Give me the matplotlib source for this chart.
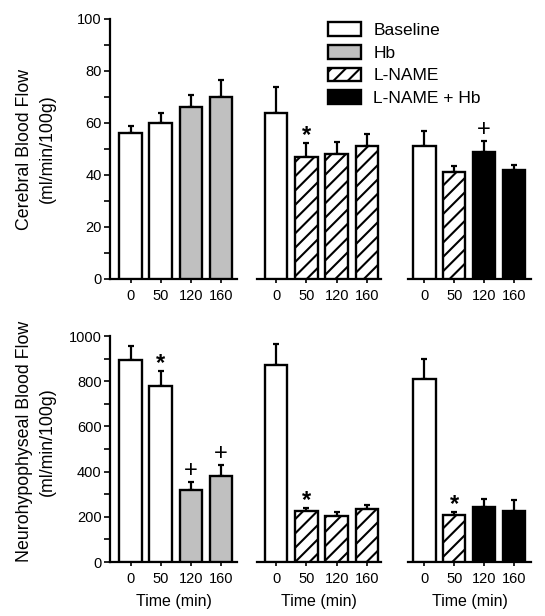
import matplotlib
matplotlib.use("Agg")
import matplotlib.pyplot as plt
from matplotlib.patches import Patch
from matplotlib.ticker import MultipleLocator
from matplotlib.backend_bases import GraphicsContextBase

# sparser hatch spacing, like the reference
_orig_hatch_path = GraphicsContextBase.get_hatch_path
def _hatch_path(self, density=6.0):
    return _orig_hatch_path(self, density=14.0)
GraphicsContextBase.get_hatch_path = _hatch_path

plt.rcParams['font.family'] = ['Liberation Sans', 'DejaVu Sans']
plt.rcParams['hatch.linewidth'] = 1.5

time_labels = ["0", "50", "120", "160"]

# Cerebral blood flow (ml/min/100g)
cbf_means = [[56, 60, 66, 70], [64, 47, 48, 51], [51, 41, 49, 42]]
cbf_sem = [[3, 4, 4.6, 6.4], [9.7, 5.5, 4.7, 4.8], [5.8, 2.4, 4, 2]]
cbf_marks = [["", "", "", ""], ["", "*", "", ""], ["", "", "+", ""]]

# Neurohypophyseal blood flow (ml/min/100g)
nhbf_means = [[892, 780, 317, 379], [870, 226, 205, 233], [808, 209, 242, 227]]
nhbf_sem = [[63, 66, 37, 49], [93, 13, 15, 19], [89, 14, 35, 47]]
nhbf_marks = [["", "*", "+", "+"], ["", "*", "", ""], ["", "*", "", ""]]

# treatment of each bar in each column
groups = [["Baseline", "Baseline", "Hb", "Hb"],
          ["Baseline", "L-NAME", "L-NAME", "L-NAME"],
          ["Baseline", "L-NAME", "L-NAME + Hb", "L-NAME + Hb"]]
legend_labels = ["Baseline", "Hb", "L-NAME", "L-NAME + Hb"]
styles = {"Baseline": dict(facecolor="white", hatch=None),
          "Hb": dict(facecolor="#c0c0c0", hatch=None),
          "L-NAME": dict(facecolor="white", hatch="/"),
          "L-NAME + Hb": dict(facecolor="black", hatch=None)}

W, H = 545, 616
fig = plt.figure(figsize=(W / 100, H / 100), dpi=100)

cols_px = [(110, 237), (257, 381), (408, 531)]
rows_px = [(19, 279), (336, 562)]
xlims = [(-0.68, 3.53), (-0.63, 3.46), (-0.55, 3.57)]

row_data = [(cbf_means, cbf_sem, cbf_marks, 100, 20, 10,
             "Cerebral Blood Flow\n(ml/min/100g)", 0.5),
            (nhbf_means, nhbf_sem, nhbf_marks, 1000, 200, 100,
             "Neurohypophyseal Blood Flow\n(ml/min/100g)", 0.533)]

fs = 10.5
for r, (means, sems, marks, ymax, maj, mnr, ylab, ylab_y) in enumerate(row_data):
    top, bot = rows_px[r]
    for c in range(3):
        x0, x1 = cols_px[c]
        ax = fig.add_axes([x0 / W, 1 - bot / H, (x1 - x0) / W, (bot - top) / H])
        xs = list(range(4))
        for i in xs:
            st = styles[groups[c][i]]
            ax.bar(i, means[c][i], width=0.75, facecolor=st["facecolor"],
                   hatch=st["hatch"], edgecolor="black", linewidth=1.7, zorder=3)
            ax.errorbar(i, means[c][i], yerr=[[0], [sems[c][i]]], fmt="none",
                        ecolor="black", elinewidth=1.6, capsize=2.5, capthick=1.6,
                        zorder=2)
            if marks[c][i]:
                sym = marks[c][i]
                ax.annotate(sym, (i, means[c][i] + sems[c][i]),
                            xytext=(0, -3 if sym == "*" else 0), textcoords="offset points",
                            ha="center", va="bottom", fontsize=17,
                            fontweight="bold" if sym == "*" else "normal")
        ax.set_xlim(*xlims[c])
        ax.set_ylim(0, ymax)
        ax.set_xticks(xs)
        ax.set_xticklabels(time_labels, fontsize=fs)
        ax.tick_params(axis="x", direction="out", length=3, width=1.2, pad=4)
        for s in ["top", "right"]:
            ax.spines[s].set_visible(False)
        ax.spines["bottom"].set_linewidth(1.6)
        if c == 0:
            ax.spines["left"].set_linewidth(1.6)
            ax.yaxis.set_major_locator(MultipleLocator(maj))
            ax.yaxis.set_minor_locator(MultipleLocator(mnr))
            ax.tick_params(axis="y", which="major", direction="out", length=4,
                           width=1.2, labelsize=fs, pad=2)
            ax.tick_params(axis="y", which="minor", direction="out", length=4,
                           width=1.2)
            ax.set_ylabel(ylab, fontsize=12.8, linespacing=1.45)
            ax.yaxis.set_label_coords(-0.43, ylab_y)
        else:
            ax.spines["left"].set_visible(False)
            ax.set_yticks([])
        if r == 1:
            ax.set_xlabel("Time (min)", fontsize=11.5, labelpad=6)

handles = [Patch(facecolor=styles[l]["facecolor"], hatch=styles[l]["hatch"],
                 edgecolor="black", linewidth=1.7) for l in legend_labels]
fig.legend(handles, legend_labels, loc="upper left",
           bbox_to_anchor=(328 / W, 1 - 22 / H), frameon=False,
           fontsize=12.5, handlelength=1.9, handleheight=0.86, handletextpad=0.7,
           labelspacing=0.39, borderpad=0, borderaxespad=0)

fig.savefig("out.png", dpi=100)
